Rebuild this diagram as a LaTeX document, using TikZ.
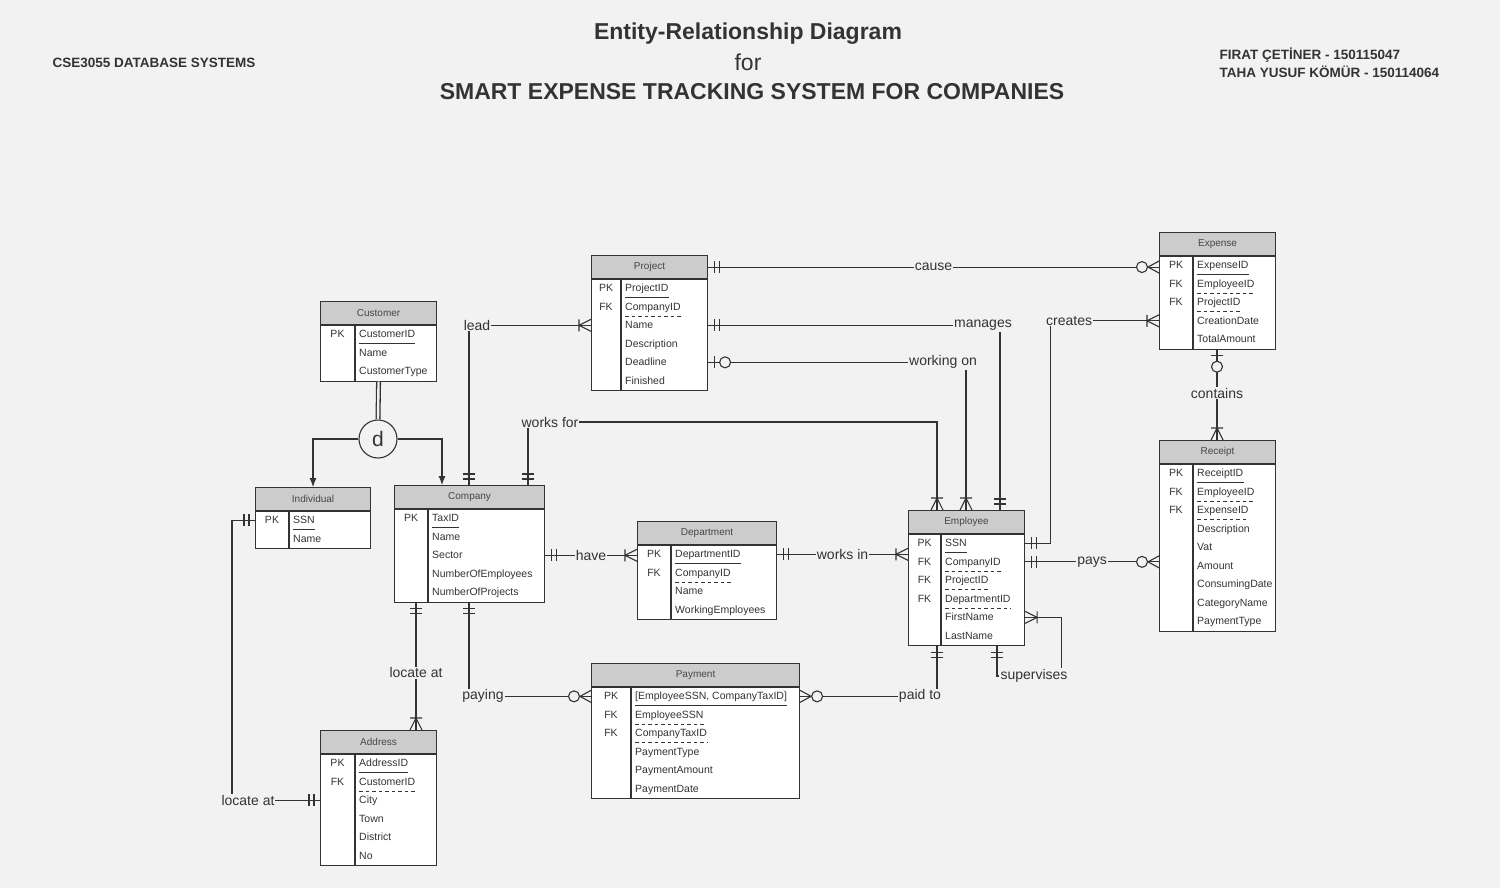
\documentclass[tikz,border=0pt]{standalone}
\usepackage{fontspec}
\setmainfont{Liberation Sans}
\usepackage{tikz}
\usetikzlibrary{arrows.meta,decorations.markings}
\definecolor{erbg}{RGB}{242,242,242}
\definecolor{erline}{RGB}{51,51,51}
\definecolor{erhead}{RGB}{204,204,204}
\definecolor{ertitle}{RGB}{70,70,70}
\tikzstyle{conn} = [draw=erline, line width=1.1pt]
\tikzstyle{tipline} = [draw=erline, line width=1.1pt]
\tikzstyle{rel} = [fill=erbg, text=erline, inner sep=1pt, font=\fontsize{14}{16}\selectfont]
\tikzstyle{tblhead} = [draw=erline, fill=erhead, line width=1.1pt, minimum height=23pt, inner sep=0pt, text=ertitle, font=\fontsize{10}{12}\selectfont]
\tikzstyle{tblbody} = [draw=erline, fill=white, line width=1.1pt, inner sep=0pt]
\tikzstyle{keytxt} = [text=erline, inner sep=0pt, font=\fontsize{10.5}{12}\selectfont]
\tikzstyle{attr} = [anchor=west, text=erline, inner sep=0pt, text height=8.5pt, text depth=2pt, font=\fontsize{10.5}{12}\selectfont]

% crow's foot ends, #1 = 1 at start of a path, -1 at its end
\newcommand{\mkone}[1]{\draw[tipline] ({#1*6},-6) -- ({#1*6},6) ({#1*11},-6) -- ({#1*11},6);}
\newcommand{\mkmany}[1]{\draw[tipline] ({#1*12},-6) -- ({#1*12},6) (0,-6) -- ({#1*12},0) -- (0,6);}
\newcommand{\mkzmany}[1]{\draw[tipline] (0,-6) -- ({#1*11},0) -- (0,6); \draw[tipline, fill=erbg] ({#1*17},0) circle (5.5);}
\newcommand{\mkzone}[1]{\draw[tipline] ({#1*6},-6) -- ({#1*6},6); \draw[tipline, fill=erbg] ({#1*17},0) circle (5.5);}

\tikzset{
  erend/.style 2 args={postaction={decorate, decoration={markings, mark=at position #1 with {#2}}}},
  from one/.style={erend={0}{\mkone{1}}},
  from many/.style={erend={0}{\mkmany{1}}},
  from zone/.style={erend={0}{\mkzone{1}}},
  to one/.style={erend={1}{\mkone{-1}}},
  to many/.style={erend={1}{\mkmany{-1}}},
  to zmany/.style={erend={1}{\mkzmany{-1}}},
  pk/.style={append after command={([yshift=-3.75pt]\tikzlastnode.south west) edge[draw=erline, line width=1pt] ([yshift=-3.75pt]\tikzlastnode.south east)}},
  fk/.style={append after command={([yshift=-3.75pt]\tikzlastnode.south west) edge[draw=erline, line width=1pt, dash pattern=on 3.5pt off 3pt] ([yshift=-3.75pt]\tikzlastnode.south east)}},
  nk/.style={}
}

% entity: name, x, y, width, key column, rows, title, row list
\newcommand{\entity}[8]{%
  \node[tblhead, minimum width=#4pt, anchor=north west] (#1-h) at (#2,#3) {#7};
  \node[tblbody, minimum width=#4pt, minimum height=18.5pt*#6, anchor=north] (#1) at (#1-h.south) {};
  \draw[erline, line width=1.1pt] ([xshift=#5pt]#1.north west) -- ([xshift=#5pt]#1.south west);
  \foreach \k/\t/\u [count=\i] in {#8} {
    \path (#1.north west) ++(0,{18.5*\i-9.25}) coordinate (#1-\i w);
    \path (#1.north east) ++(0,{18.5*\i-9.25}) coordinate (#1-\i e);
    \node[keytxt] at ([xshift=#5pt/2]#1-\i w) {\k};
    \node[attr,\u] at ([xshift=#5pt+4pt]#1-\i w) {\t};
  }
}

\begin{document}
\begin{tikzpicture}[x=1pt, y=-1pt]
\fill[erbg] (0,0) rectangle (1500,888);

% Headings
\node[text=erline, font=\bfseries\fontsize{23}{26}\selectfont] (title) at (748,34) {Entity-Relationship Diagram};
\node[text=erline, font=\fontsize{23}{26}\selectfont] (for) at (748,62) {for};
\node[text=erline, font=\bfseries\fontsize{23}{26}\selectfont] (subject) at (752,92) {SMART EXPENSE TRACKING SYSTEM FOR COMPANIES};
\node[text=erline, anchor=west, font=\bfseries\fontsize{13.5}{16}\selectfont] (course) at (49,63) {CSE3055 DATABASE SYSTEMS};
\node[text=erline, anchor=west, font=\bfseries\fontsize{13.5}{16}\selectfont] (author1) at (1216,55) {FIRAT ÇETİNER - 150115047};
\node[text=erline, anchor=west, font=\bfseries\fontsize{13.5}{16}\selectfont] (author2) at (1216,72) {TAHA YUSUF KÖMÜR - 150114064};

% Entities
\entity{proj}{591}{255}{116}{30}{6}{Project}{PK/ProjectID/pk, FK/CompanyID/fk, {}/Name/nk, {}/Description/nk, {}/Deadline/nk, {}/Finished/nk}
\entity{exp}{1159}{232}{116}{34}{5}{Expense}{PK/ExpenseID/pk, FK/EmployeeID/fk, FK/ProjectID/fk, {}/CreationDate/nk, {}/TotalAmount/nk}
\entity{cust}{320}{301}{116}{35}{3}{Customer}{PK/CustomerID/pk, {}/Name/nk, {}/CustomerType/nk}
\entity{ind}{255}{487}{115}{34}{2}{Individual}{PK/SSN/pk, {}/Name/nk}
\entity{comp}{394}{485}{150}{34}{5}{Company}{PK/TaxID/pk, {}/Name/nk, {}/Sector/nk, {}/NumberOfEmployees/nk, {}/NumberOfProjects/nk}
\entity{dept}{637}{521}{139}{34}{4}{Department}{PK/DepartmentID/pk, FK/CompanyID/fk, {}/Name/nk, {}/WorkingEmployees/nk}
\entity{emp}{908}{510}{116}{33}{6}{Employee}{PK/SSN/pk, FK/CompanyID/fk, FK/ProjectID/fk, FK/DepartmentID/fk, {}/FirstName/nk, {}/LastName/nk}
\entity{rec}{1159}{440}{116}{34}{9}{Receipt}{PK/ReceiptID/pk, FK/EmployeeID/fk, FK/ExpenseID/fk, {}/Description/nk, {}/Vat/nk, {}/Amount/nk, {}/ConsumingDate/nk, {}/CategoryName/nk, {}/PaymentType/nk}
\entity{pay}{591}{663}{208}{40}{6}{Payment}{PK/{[EmployeeSSN, CompanyTaxID]}/pk, FK/EmployeeSSN/fk, FK/CompanyTaxID/fk, {}/PaymentType/nk, {}/PaymentAmount/nk, {}/PaymentDate/nk}
\entity{addr}{320}{730}{116}{35}{6}{Address}{PK/AddressID/pk, FK/CustomerID/fk, {}/City/nk, {}/Town/nk, {}/District/nk, {}/No/nk}

% Disjoint specialisation of Customer
\node[draw=erline, line width=1.1pt, circle, minimum size=38pt, inner sep=0pt, fill=erbg, text=erline, font=\fontsize{21}{22}\selectfont] (dj) at (378,439) {d};
\draw[conn, line width=1.3pt, double=erbg, double distance=2.4pt] (cust.south) -- (dj.north);
\draw[conn, -{Latex[length=9pt, width=7pt]}] (dj.west) -| ([xshift=58pt]ind-h.north west);
\draw[conn, -{Latex[length=9pt, width=7pt]}] (dj.east) -| ([xshift=48pt]comp-h.north west);

% Relationships
\draw[conn, from one, to zmany] (proj-h.east) -- node[rel]{cause} (proj-h.east -| exp.west);
\draw[conn, from many, to one] (proj-3w) -| node[rel, pos=0.5, xshift=8pt]{lead} ([xshift=75pt]comp-h.north west);
\draw[conn, from one, to one] (proj-3e) -| node[rel, pos=0.5, xshift=-17pt]{manages} ([xshift=92pt]emp-h.north west);
\draw[conn, from zone, to many] (proj-5e) -| node[rel, pos=0.5, xshift=-23pt]{working on} ([xshift=58pt]emp-h.north west);
\draw[conn, from one, to many] ([xshift=134pt]comp-h.north west) -- ++(0,-63) node[rel, xshift=22pt]{works for} -| ([xshift=29pt]emp-h.north west);
\draw[conn, from one, to many] (emp-1e) -- ++(25,0) |- node[rel, pos=0.5, xshift=19pt]{creates} (exp-4w);
\draw[conn, from one, to zmany] (emp-2e) -- node[rel]{pays} (emp-2e -| rec.west);
\node[rel] (sup) at (1034,676) {supervises};
\draw[conn, from many] (emp-5e) -| ([xshift=-7pt]sup.north east);
\draw[conn, to one] (sup.west) -| ([xshift=89pt]emp.south west);
\draw[conn, from zone, to many] ([xshift=58pt]exp.south west) -- node[rel, pos=0.48]{contains} ([xshift=58pt]rec-h.north west);
\draw[conn, from one, to many] (comp-3e) -- node[rel]{have} (comp-3e -| dept.west);
\draw[conn, from one, to many] (dept-1e) -- node[rel]{works in} (dept-1e -| emp.west);
\draw[conn, from one, to zmany] ([xshift=29pt]emp.south west) |- node[rel, pos=0.5, xshift=-17pt]{paid to} (pay-1e);
\draw[conn, from one, to zmany] ([xshift=75pt]comp.south west) |- node[rel, pos=0.5, xshift=14pt]{paying} (pay-1w);
\draw[conn, from one, to many] ([xshift=22pt]comp.south west) -- node[rel, pos=0.55]{locate at} ([xshift=96pt]addr-h.north west);
\draw[conn, from one, to one] (ind-1w) -- ++(-23,0) |- node[rel, pos=0.5, xshift=16pt]{locate at} (addr-3w);
\end{tikzpicture}
\end{document}
